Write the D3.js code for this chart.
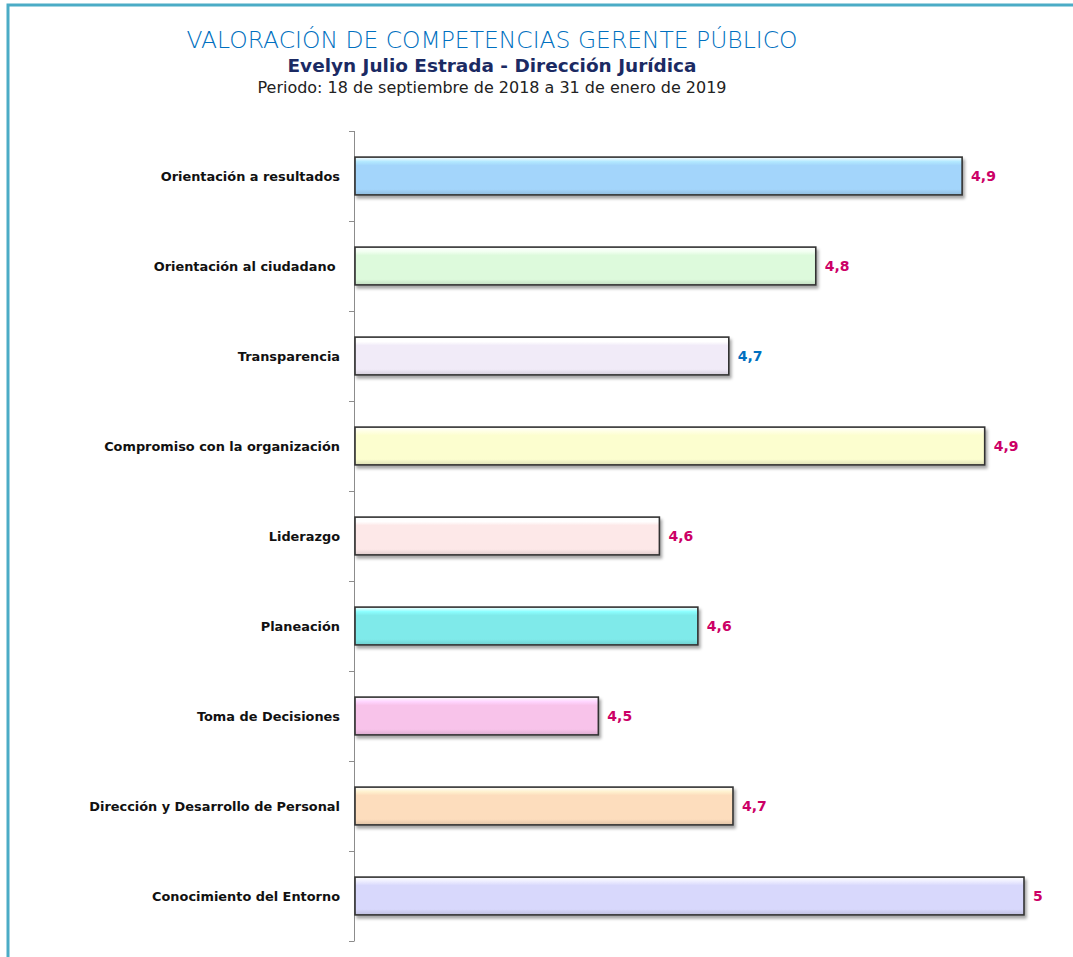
<!DOCTYPE html>
<html lang="es">
<head>
<meta charset="UTF-8">
<title>Valoración de competencias</title>
<style>
  body, html { margin: 0; padding: 0; background: #ffffff; }
  svg text { font-family: "DejaVu Sans", sans-serif; }
</style>
</head>
<body>
<svg id="svg" width="1073" height="957"></svg>
<script src="https://d3js.org/d3.v7.min.js"></script>
<script>
const categories = [
  'Orientación a resultados',
  'Orientación al ciudadano ',
  'Transparencia',
  'Compromiso con la organización',
  'Liderazgo',
  'Planeación',
  'Toma de Decisiones',
  'Dirección y Desarrollo de Personal',
  'Conocimiento del Entorno'
]
const values = [4.926, 4.751, 4.647, 4.953, 4.564, 4.610, 4.491, 4.652, 5.0]
const valueLabels = ['4,9', '4,8', '4,7', '4,9', '4,6', '4,6', '4,5', '4,7', '5']
const barColors = ['#a3d5fb', '#ddfadc', '#f1ebf8', '#fcfecf', '#fde8e8', '#7feaea', '#f8c3ea', '#fdddbd', '#d8d8fc']
const labelColors = ['#cc0066', '#cc0066', '#0070c0', '#cc0066', '#cc0066', '#cc0066', '#cc0066', '#cc0066', '#cc0066']

const svg = d3.select('#svg')

// outer frame
svg.append('path')
  .attr('d', 'M8,957 V5 H1073')
  .attr('fill', 'none')
  .attr('stroke', '#4bacc6')
  .attr('stroke-width', 3)

// titles
svg.append('text')
  .attr('x', 492).attr('y', 48)
  .attr('text-anchor', 'middle')
  .attr('fill', '#0070c0')
  .style('font-size', '23px')
  .style('font-weight', 200)
  .attr('textLength', 611)
  .attr('lengthAdjust', 'spacingAndGlyphs')
  .text('VALORACIÓN DE COMPETENCIAS GERENTE PÚBLICO')

svg.append('text')
  .attr('x', 492).attr('y', 72)
  .attr('text-anchor', 'middle')
  .attr('fill', '#1b2a63')
  .style('font-size', '18px')
  .style('font-weight', 'bold')
  .attr('textLength', 409)
  .attr('lengthAdjust', 'spacingAndGlyphs')
  .text('Evelyn Julio Estrada - Dirección Jurídica')

svg.append('text')
  .attr('x', 492).attr('y', 93)
  .attr('text-anchor', 'middle')
  .attr('fill', '#222')
  .style('font-size', '15px')
  .attr('textLength', 469)
  .attr('lengthAdjust', 'spacingAndGlyphs')
  .text('Periodo: 18 de septiembre de 2018 a 31 de enero de 2019')

const x = d3.scaleLinear().domain([4.2, 5.0]).range([355, 1024])
const y = d3.scaleBand().domain(categories).range([131, 941]).paddingInner(0.58).paddingOuter(0.29)

const defs = svg.append('defs')
const shadow = defs.append('filter').attr('id', 'shadow')
  .attr('x', '-5%').attr('y', '-20%').attr('width', '110%').attr('height', '160%')
shadow.append('feDropShadow')
  .attr('dx', 2).attr('dy', 3).attr('stdDeviation', 1.5)
  .attr('flood-color', '#000').attr('flood-opacity', 0.35)

barColors.forEach((c, i) => {
  const g = defs.append('linearGradient').attr('id', 'grad' + i)
    .attr('x1', 0).attr('y1', 0).attr('x2', 0).attr('y2', 1)
  g.append('stop').attr('offset', '0%').attr('stop-color', '#ffffff')
  g.append('stop').attr('offset', '12%').attr('stop-color', d3.color(c).brighter(0.25))
  g.append('stop').attr('offset', '22%').attr('stop-color', c)
  g.append('stop').attr('offset', '85%').attr('stop-color', c)
  g.append('stop').attr('offset', '100%').attr('stop-color', d3.color(c).darker(0.35))
})

// axis line with ticks at category boundaries
const step = y.step()
const bounds = categories.map(d => y(d) - (step - y.bandwidth()) / 2)
bounds.push(941)
svg.append('line')
  .attr('x1', 354.5).attr('x2', 354.5)
  .attr('y1', 131).attr('y2', 941)
  .attr('stroke', '#8c8c8c')
svg.selectAll('.tick')
  .data(bounds)
  .enter()
  .append('line')
  .attr('x1', 349).attr('x2', 354.5)
  .attr('y1', d => Math.round(d) + 0.5).attr('y2', d => Math.round(d) + 0.5)
  .attr('stroke', '#8c8c8c')

const data = categories.map((c, i) => ({ c, v: values[i], i }))

svg.selectAll('rect.bar')
  .data(data)
  .enter()
  .append('rect')
  .attr('class', 'bar')
  .attr('x', x(4.2))
  .attr('y', d => y(d.c))
  .attr('width', d => x(d.v) - x(4.2))
  .attr('height', y.bandwidth())
  .attr('fill', d => 'url(#grad' + d.i + ')')
  .attr('stroke', '#333')
  .attr('stroke-width', 1.6)
  .attr('filter', 'url(#shadow)')

svg.selectAll('text.cat')
  .data(data)
  .enter()
  .append('text')
  .attr('class', 'cat')
  .attr('x', 340)
  .attr('y', d => y(d.c) + y.bandwidth() / 2)
  .attr('dy', '0.35em')
  .attr('text-anchor', 'end')
  .style('font-size', '12.9px')
  .style('font-weight', 'bold')
  .style('white-space', 'pre')
  .attr('fill', '#111')
  .text(d => d.c)

svg.selectAll('text.val')
  .data(data)
  .enter()
  .append('text')
  .attr('class', 'val')
  .attr('x', d => x(d.v) + 9)
  .attr('y', d => y(d.c) + y.bandwidth() / 2)
  .attr('dy', '0.35em')
  .style('font-size', '14px')
  .style('font-weight', 'bold')
  .attr('fill', d => labelColors[d.i])
  .text(d => valueLabels[d.i])
</script>
</body>
</html>
